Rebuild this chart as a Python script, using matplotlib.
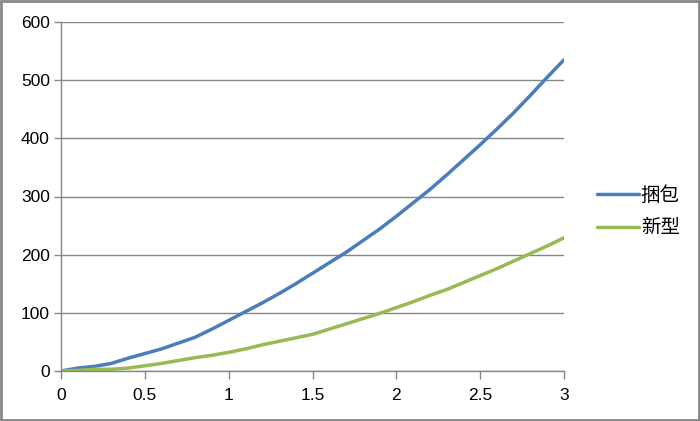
import matplotlib
matplotlib.use('Agg')
import matplotlib.pyplot as plt
from matplotlib.patches import Rectangle

plt.rcParams['font.family'] = ['Liberation Sans', 'Noto Sans CJK SC', 'DejaVu Sans']

# data
x = [0, 0.1, 0.2, 0.3, 0.4, 0.5, 0.6, 0.7, 0.8, 0.9, 1.0,
     1.1, 1.2, 1.3, 1.4, 1.5, 1.6, 1.7, 1.8, 1.9, 2.0,
     2.1, 2.2, 2.3, 2.4, 2.5, 2.6, 2.7, 2.8, 2.9, 3.0]
kunbao = [0, 5, 8, 13, 22, 30, 38, 48, 58, 72, 87,
          102, 117, 133, 150, 168, 186, 204, 224, 244, 266,
          289, 312, 337, 363, 389, 416, 444, 474, 505, 535]
xinxing = [0, 1, 3, 3, 5, 9, 13, 18, 23, 27, 32,
           38, 45, 51, 57, 63, 72, 81, 90, 99, 109,
           119, 130, 140, 152, 164, 176, 189, 202, 215, 229]
labels = ['捆包', '新型']

xticks = [0, 0.5, 1, 1.5, 2, 2.5, 3]
xticklabels = ['0', '0.5', '1', '1.5', '2', '2.5', '3']
yticks = [0, 100, 200, 300, 400, 500, 600]

grey = '#868686'

fig = plt.figure(figsize=(7, 4.21), dpi=100)
ax = fig.add_axes([61/700, 50/421, 503/700, 349/421])

ax.plot(x, kunbao, color='#4a7ebb', lw=2.5, label=labels[0], solid_capstyle='round')
ax.plot(x, xinxing, color='#98b954', lw=2.5, label=labels[1], solid_capstyle='round')

ax.set_xlim(0, 3)
ax.set_ylim(0, 600)
ax.set_xticks(xticks)
ax.set_xticklabels(xticklabels)
ax.set_yticks(yticks)
ax.yaxis.grid(True, color=grey, lw=1)
ax.set_axisbelow(True)
for s in ['top', 'right']:
    ax.spines[s].set_visible(False)
for s in ['left', 'bottom']:
    ax.spines[s].set_color(grey)
    ax.spines[s].set_linewidth(1)
ax.tick_params(axis='both', colors=grey, labelcolor='black', labelsize=12.5, width=1)
ax.tick_params(axis='x', length=6, pad=6)
ax.tick_params(axis='y', length=5, pad=3)

fig.legend(loc='center left', bbox_to_anchor=(597/700, (421-212)/421), frameon=False,
           fontsize=14, handlelength=2.15, handletextpad=0.1, labelspacing=0.75,
           borderpad=0, borderaxespad=0)

fig.patches.append(Rectangle((0.0015, 0.002), 0.997, 0.995, transform=fig.transFigure,
                             fill=False, edgecolor=grey, lw=2))

plt.savefig('out.png', dpi=100)
